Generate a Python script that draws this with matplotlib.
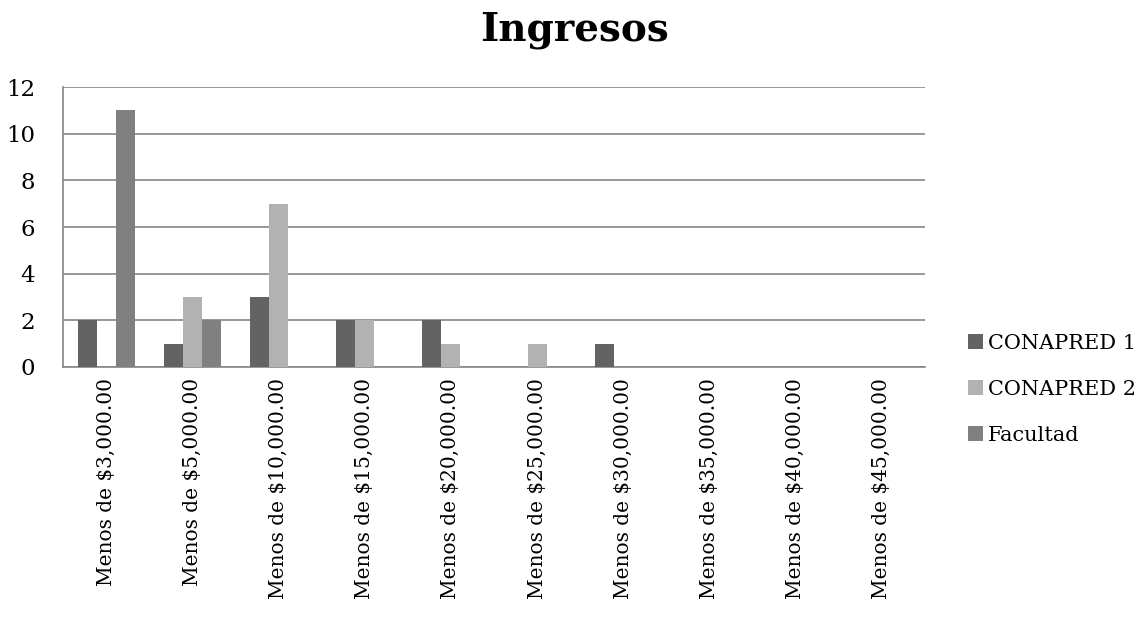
import matplotlib
matplotlib.use("Agg")
import matplotlib.pyplot as plt
import numpy as np

categories = [
    "Menos de $3,000.00", "Menos de $5,000.00", "Menos de $10,000.00",
    "Menos de $15,000.00", "Menos de $20,000.00", "Menos de $25,000.00",
    "Menos de $30,000.00", "Menos de $35,000.00", "Menos de $40,000.00",
    "Menos de $45,000.00",
]
conapred1 = [2, 1, 3, 2, 2, 0, 1, 0, 0, 0]
conapred2 = [0, 3, 7, 2, 1, 1, 0, 0, 0, 0]
facultad = [11, 2, 0, 0, 0, 0, 0, 0, 0, 0]

series = [
    ("CONAPRED 1", conapred1, "#636363"),
    ("CONAPRED 2", conapred2, "#b2b2b2"),
    ("Facultad", facultad, "#808080"),
]

plt.rcParams["font.family"] = ["DejaVu Serif"]

fig = plt.figure(figsize=(11.46, 6.35), dpi=100)
ax = fig.add_axes([63 / 1146, 1 - 367 / 635, (925 - 63) / 1146, (367 - 87) / 635])

x = np.arange(len(categories))
width = 0.22
for i, (name, vals, color) in enumerate(series):
    ax.bar(x + (i - 1) * width, vals, width, color=color, label=name, zorder=3)

ax.set_xlim(-0.5, len(categories) - 0.5)
ax.set_ylim(0, 12)
ax.set_yticks(range(0, 13, 2))
ax.yaxis.grid(True, color="#868686", linewidth=1.2, zorder=0)
ax.set_xticks(x)
ax.set_xticklabels(categories, rotation=90, fontsize=14.5)
ax.tick_params(axis="y", labelsize=16.5, length=0, pad=20)
ax.tick_params(axis="x", length=0, pad=8)
for side in ("top", "right"):
    ax.spines[side].set_visible(False)
for side in ("left", "bottom"):
    ax.spines[side].set_color("#868686")
    ax.spines[side].set_linewidth(1.2)

fig.text(574 / 1146, 1 - 30 / 635, "Ingresos", ha="center", va="center",
         fontsize=28, fontweight="bold")

ax.legend(loc="center left", bbox_to_anchor=(1.05, -0.079), frameon=False,
          fontsize=15, handlelength=0.72, handleheight=0.72, handletextpad=0.25,
          labelspacing=1.3, borderaxespad=0, borderpad=0)

fig.savefig("out.png", dpi=100)
